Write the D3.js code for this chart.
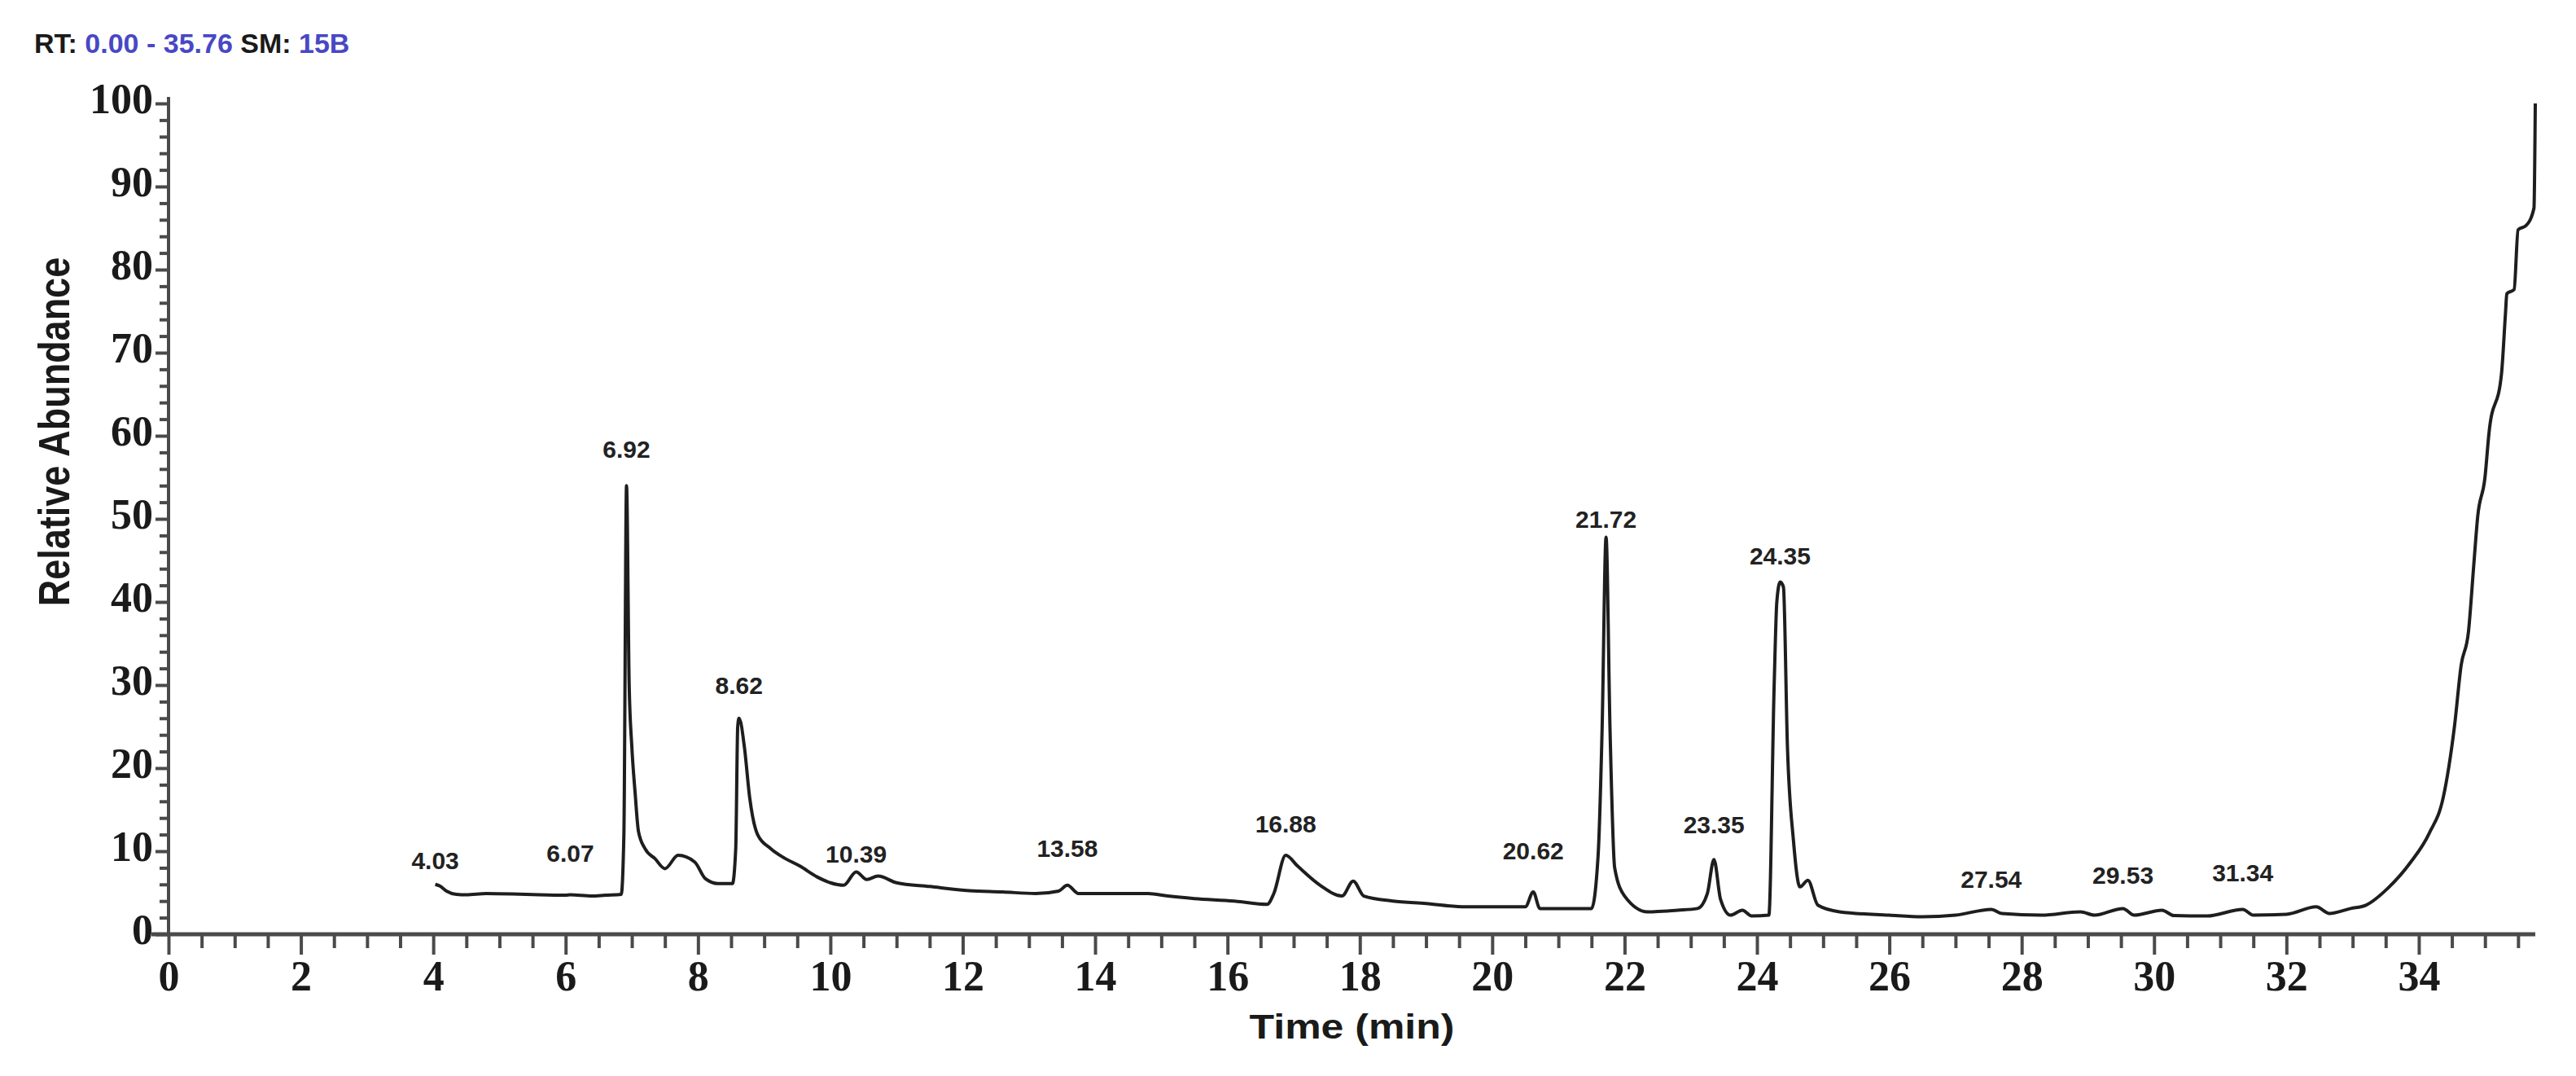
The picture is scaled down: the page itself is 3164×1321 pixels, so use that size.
<!DOCTYPE html>
<html>
<head>
<meta charset="utf-8">
<script src="https://cdn.jsdelivr.net/npm/d3@7/dist/d3.min.js"></script>
<style>
  body { margin: 0; background: #fff; }
  svg { display: block; }
  .tick-label { font-family: 'Liberation Serif', 'Times New Roman', serif; font-weight: bold; font-size: 52px; fill: #1a1a1a; }
  .peak-label { font-family: 'Liberation Sans', Arial, sans-serif; font-weight: bold; font-size: 30px; fill: #222; }
  .axis-title { font-family: 'Liberation Sans', Arial, sans-serif; font-weight: bold; fill: #1a1a1a; }
</style>
</head>
<body>
<div id="chart"></div>
<script>
// retention time (min) and relative abundance (%)
const retentionTimes = [
  4.03, 4.10, 4.20, 4.35, 4.50, 4.80, 5.20, 5.60, 6.00, 6.07, 6.40, 6.60, 6.84, 6.88, 6.92, 6.96,
  7.00, 7.05, 7.10, 7.20, 7.35, 7.50, 7.70, 7.95, 8.11, 8.30, 8.52, 8.57, 8.60, 8.62, 8.70, 8.78,
  8.90, 9.10, 9.30, 9.54, 9.80, 10.00, 10.20, 10.39, 10.55, 10.72, 11.00, 11.50, 12.10, 12.60,
  13.10, 13.45, 13.58, 13.75, 14.20, 14.80, 15.10, 15.50, 16.10, 16.60, 16.70, 16.88, 17.06,
  17.40, 17.73, 17.90, 18.06, 18.50, 19.00, 19.60, 20.50, 20.62, 20.72, 21.50, 21.60, 21.66,
  21.72, 21.78, 21.85, 22.00, 22.35, 22.80, 23.10, 23.25, 23.35, 23.45, 23.60, 23.78, 23.92,
  24.18, 24.26, 24.30, 24.35, 24.40, 24.46, 24.55, 24.65, 24.77, 24.92, 25.25, 26.00, 26.50,
  27.00, 27.54, 27.70, 28.30, 28.89, 29.10, 29.53, 29.70, 30.12, 30.30, 30.80, 31.34, 31.50,
  32.00, 32.45, 32.65, 32.97, 33.20, 33.54, 33.87, 34.16, 34.37, 34.54, 34.64, 34.75, 34.83,
  34.89, 35.00, 35.06, 35.25, 35.31, 35.33, 35.44, 35.50, 35.62, 35.74, 35.76,
];
const relAbundance = [
  6.0, 5.8, 5.2, 4.8, 4.75, 4.9, 4.85, 4.75, 4.7, 4.75, 4.6, 4.7, 4.8, 12, 54, 30,
  22.6, 17, 12.4, 10.3, 9.1, 7.9, 9.5, 8.7, 6.7, 6.1, 6.1, 10.3, 25, 26, 22.6, 16.5,
  12.0, 10.3, 9.2, 8.2, 6.9, 6.2, 5.9, 7.5, 6.6, 7.0, 6.2, 5.75, 5.25, 5.1,
  4.9, 5.2, 5.9, 4.9, 4.9, 4.9, 4.6, 4.3, 4.0, 3.6, 4.9, 9.5, 8.2,
  5.9, 4.6, 6.4, 4.6, 4.0, 3.7, 3.3, 3.3, 5.1, 3.1, 3.1, 9.5, 24.6,
  47.8, 24.6, 8.0, 4.6, 2.7, 2.9, 3.1, 4.9, 9.0, 4.2, 2.3, 2.9, 2.2,
  2.3, 30, 40, 42.4, 41.8, 22.7, 11.4, 5.7, 6.5, 3.5, 2.7, 2.3, 2.1,
  2.3, 3.0, 2.5, 2.3, 2.7, 2.3, 3.1, 2.3, 2.9, 2.25, 2.2, 3.0, 2.3,
  2.4, 3.3, 2.5, 3.1, 3.5, 5.6, 8.6, 12.2, 16.5, 25.1, 32.4, 36.4, 44.4,
  50.3, 55.0, 60.3, 67.5, 74.8, 77.1, 77.6, 84.8, 85.3, 87.4, 100,
];

// peak annotations and the abundance level each label sits at
const peakLabels = ['4.03', '6.07', '6.92', '8.62', '10.39', '13.58', '16.88', '20.62', '21.72', '23.35', '24.35', '27.54', '29.53', '31.34'];
const peakLabelLevels = [8.9, 9.8, 58.4, 30.0, 9.7, 10.4, 13.3, 10.1, 50.0, 13.2, 45.6, 6.6, 7.1, 7.4];

const xTickLabels = [0, 2, 4, 6, 8, 10, 12, 14, 16, 18, 20, 22, 24, 26, 28, 30, 32, 34];
const yTickLabels = [0, 10, 20, 30, 40, 50, 60, 70, 80, 90, 100];

const rtRange = ['0.00', '35.76'];
const smoothing = '15B';

// Variable declaration
const W = 3164;
const H = 1321;
const margin = { top: 127, right: 50, bottom: 174, left: 207 };

const x = d3
  .scaleLinear()
  .domain([0, 35.76])
  .range([margin.left, W - margin.right]);
const y = d3
  .scaleLinear()
  .domain([0, 100])
  .range([H - margin.bottom, margin.top]);

const svg = d3
  .select('#chart')
  .append('svg')
  .attr('width', W)
  .attr('height', H);

svg.append('rect').attr('width', W).attr('height', H).attr('fill', '#fff');

// header line
const header = svg
  .append('text')
  .attr('x', 42)
  .attr('y', 65)
  .attr('class', 'axis-title')
  .style('font-size', '34px');
header.append('tspan').text('RT: ');
header.append('tspan').attr('fill', '#4848c4').text(`${rtRange[0]} - ${rtRange[1]} `);
header.append('tspan').text('SM: ');
header.append('tspan').attr('fill', '#4848c4').text(smoothing);

// Axes ////////////////////////////////////////
const axisColor = '#4a4a4a';
const y0 = y(0);
const x0 = x(0);

// minor ticks
const xMinor = d3.range(0, 35.76, 0.5).filter(v => v % 2 !== 0);
svg
  .append('g')
  .attr('transform', `translate(0,${y0})`)
  .call(d3.axisBottom(x).tickValues(xMinor).tickSize(17).tickSizeOuter(0).tickFormat(''))
  .call(g => g.select('.domain').remove())
  .selectAll('line')
  .attr('stroke', axisColor)
  .attr('stroke-width', 4);

const yMinor = d3.range(0, 101, 2).filter(v => v % 10 !== 0);
svg
  .append('g')
  .attr('transform', `translate(${x0},0)`)
  .call(d3.axisLeft(y).tickValues(yMinor).tickSize(11).tickSizeOuter(0).tickFormat(''))
  .call(g => g.select('.domain').remove())
  .selectAll('line')
  .attr('stroke', axisColor)
  .attr('stroke-width', 4);

// major ticks + labels
const xAxisG = svg
  .append('g')
  .attr('transform', `translate(0,${y0})`)
  .call(d3.axisBottom(x).tickValues(xTickLabels).tickSize(25).tickSizeOuter(0).tickPadding(7).tickFormat(d3.format('d')));
xAxisG.select('.domain').remove();
xAxisG.selectAll('line').attr('stroke', axisColor).attr('stroke-width', 4);
xAxisG.selectAll('text').attr('class', 'tick-label').attr('fill', null);

const yAxisG = svg
  .append('g')
  .attr('transform', `translate(${x0},0)`)
  .call(d3.axisLeft(y).tickValues(yTickLabels).tickSize(16).tickSizeOuter(0).tickPadding(3).tickFormat(d3.format('d')));
yAxisG.select('.domain').remove();
yAxisG.selectAll('line').attr('stroke', axisColor).attr('stroke-width', 4);
yAxisG.selectAll('text').attr('class', 'tick-label').attr('fill', null).attr('dy', '0.22em');

// axis lines
svg
  .append('line')
  .attr('x1', x0 - 21)
  .attr('x2', x.range()[1])
  .attr('y1', y0)
  .attr('y2', y0)
  .attr('stroke', axisColor)
  .attr('stroke-width', 5);
svg
  .append('line')
  .attr('x1', x0)
  .attr('x2', x0)
  .attr('y1', y0)
  .attr('y2', y(100) - 8)
  .attr('stroke', axisColor)
  .attr('stroke-width', 4);

// axis titles
svg
  .append('text')
  .attr('class', 'axis-title')
  .attr('text-anchor', 'middle')
  .attr('transform', `translate(${(x.range()[0] + x.range()[1]) / 2},1275) scale(1.19,1)`)
  .style('font-size', '42px')
  .text('Time (min)');

svg
  .append('text')
  .attr('class', 'axis-title')
  .attr('text-anchor', 'middle')
  .attr('transform', 'translate(66,530) scale(1.18,1) rotate(-90)')
  .attr('dy', '0.35em')
  .style('font-size', '45px')
  .text('Relative Abundance');

// Trace ///////////////////////////////////////
const trace = retentionTimes.map((t, i) => ({ t, v: relAbundance[i] }));
const line = d3
  .line()
  .x(d => x(d.t))
  .y(d => y(d.v))
  .curve(d3.curveMonotoneX);

svg
  .append('path')
  .datum(trace)
  .attr('d', line)
  .attr('fill', 'none')
  .attr('stroke', '#1e1e1e')
  .attr('stroke-width', 4)
  .attr('stroke-linejoin', 'round');

// peak labels
svg
  .selectAll('.peak-label')
  .data(peakLabels)
  .enter()
  .append('text')
  .attr('class', 'peak-label')
  .attr('text-anchor', 'middle')
  .attr('x', d => x(+d))
  .attr('y', (d, i) => y(peakLabelLevels[i]))
  .attr('dy', '0.36em')
  .text(d => d);
</script>
</body>
</html>
